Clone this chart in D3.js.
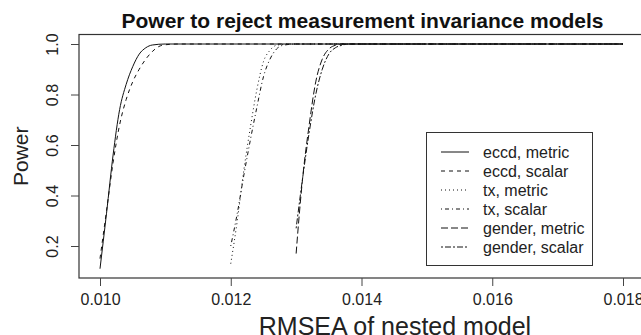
<!DOCTYPE html>
<html>
<head>
<meta charset="utf-8">
<script src="https://cdn.jsdelivr.net/npm/d3@7"></script>
<style>
  body { margin: 0; background: #fff; }
  svg { display: block; font-family: "Liberation Sans", Arial, sans-serif; }
</style>
</head>
<body>
<div id="chart"></div>
<script>
// power curves, [RMSEA, power]
const eccdMetric = [[0.0100,0.11],[0.0101,0.33],[0.0102,0.56],[0.0103,0.74],[0.0104,0.84],[0.0105,0.91],[0.0106,0.96],[0.0107,0.985],[0.0108,0.996],[0.0110,1.0],[0.0180,1.0]];
const eccdScalar = [[0.0100,0.15],[0.0101,0.34],[0.0102,0.53],[0.0103,0.68],[0.0104,0.78],[0.0105,0.85],[0.0106,0.90],[0.0107,0.94],[0.0108,0.97],[0.0109,0.99],[0.0110,0.997],[0.0112,1.0],[0.0180,1.0]];
const txMetric = [[0.0120,0.13],[0.0121,0.30],[0.0122,0.50],[0.0123,0.67],[0.0124,0.82],[0.0125,0.93],[0.0126,0.975],[0.0127,0.995],[0.0129,1.0],[0.0180,1.0]];
const txScalar = [[0.0120,0.20],[0.0121,0.33],[0.0122,0.48],[0.0123,0.62],[0.0124,0.75],[0.0125,0.87],[0.0126,0.94],[0.0127,0.98],[0.0128,0.995],[0.0130,1.0],[0.0180,1.0]];
const genderMetric = [[0.0130,0.17],[0.01305,0.33],[0.0131,0.47],[0.0132,0.68],[0.0133,0.85],[0.0134,0.94],[0.0135,0.98],[0.0136,0.995],[0.0137,1.0],[0.0180,1.0]];
const genderScalar = [[0.0130,0.27],[0.0131,0.47],[0.0132,0.65],[0.0133,0.80],[0.0134,0.90],[0.0135,0.96],[0.0136,0.985],[0.0137,0.995],[0.0138,1.0],[0.0180,1.0]];

const seriesNames = ["eccd, metric", "eccd, scalar", "tx, metric", "tx, scalar", "gender, metric", "gender, scalar"];
const seriesData = [eccdMetric, eccdScalar, txMetric, txScalar, genderMetric, genderScalar];
const xTicks = [0.010, 0.012, 0.014, 0.016, 0.018];
const yTicks = [0.2, 0.4, 0.6, 0.8, 1.0];

// R line types: solid, dashed, dotted, dotdash, longdash, twodash
const dashes = [null, "4,4", "1,3", "1,3,4,3", "7,3", "2,2,6,2"];

const width = 641, height = 335;
const plot = {left: 79, right: 646, top: 34.5, bottom: 278};

const svg = d3.select("#chart").append("svg")
  .attr("width", width)
  .attr("height", height);

const x = d3.scaleLinear()
  .domain([0.010, 0.018])
  .range([100, 623]);

const y = d3.scaleLinear()
  .domain([0.2, 1.0])
  .range([246, 44]);

svg.append("clipPath").attr("id", "clip")
  .append("rect")
  .attr("x", plot.left).attr("y", plot.top)
  .attr("width", plot.right - plot.left).attr("height", plot.bottom - plot.top);

const line = d3.line()
  .x(d => x(d[0]))
  .y(d => y(d[1]))
  .curve(d3.curveMonotoneX);

svg.append("g")
  .attr("clip-path", "url(#clip)")
  .selectAll("path")
  .data(seriesData)
  .enter()
  .append("path")
  .attr("d", line)
  .attr("fill", "none")
  .attr("stroke", "#111")
  .attr("stroke-width", 1)
  .attr("stroke-dasharray", (d, i) => dashes[i]);

// frame
svg.append("rect")
  .attr("x", plot.left).attr("y", plot.top)
  .attr("width", plot.right - plot.left).attr("height", plot.bottom - plot.top)
  .attr("fill", "none")
  .attr("stroke", "#333")
  .attr("stroke-width", 1.2);

// x axis
const xAxis = svg.append("g")
  .attr("transform", "translate(0," + plot.bottom + ")")
  .call(d3.axisBottom(x).tickValues(xTicks).tickFormat(d3.format(".3f")).tickSize(8).tickPadding(8));
xAxis.select(".domain").remove();
xAxis.selectAll("line").attr("stroke", "#444");
xAxis.selectAll("text")
  .attr("font-size", 16)
  .attr("fill", "#222")
  .style("font-family", "Liberation Sans, Arial, sans-serif");

// y axis
const yAxis = svg.append("g")
  .attr("transform", "translate(" + plot.left + ",0)")
  .call(d3.axisLeft(y).tickValues(yTicks).tickFormat(d3.format(".1f")).tickSize(8));
yAxis.select(".domain").remove();
yAxis.selectAll("line").attr("stroke", "#444");
yAxis.selectAll("text")
  .attr("x", null).attr("dy", null)
  .attr("transform", "translate(-21,0) rotate(-90)")
  .attr("text-anchor", "middle")
  .attr("font-size", 16)
  .attr("fill", "#222")
  .style("font-family", "Liberation Sans, Arial, sans-serif");

// titles
svg.append("text")
  .attr("x", (plot.left + plot.right) / 2)
  .attr("y", 28)
  .attr("text-anchor", "middle")
  .attr("font-size", 21)
  .attr("font-weight", "bold")
  .attr("fill", "#111")
  .text("Power to reject measurement invariance models");

svg.append("text")
  .attr("x", 395)
  .attr("y", 335)
  .attr("text-anchor", "middle")
  .attr("font-size", 25)
  .attr("fill", "#222")
  .text("RMSEA of nested model");

svg.append("text")
  .attr("transform", "translate(28," + (plot.top + plot.bottom) / 2 + ") rotate(-90)")
  .attr("text-anchor", "middle")
  .attr("font-size", 21)
  .attr("fill", "#222")
  .text("Power");

// legend
const legend = svg.append("g");
legend.append("rect")
  .attr("x", 426.5).attr("y", 132.5)
  .attr("width", 166).attr("height", 133)
  .attr("fill", "#fff")
  .attr("stroke", "#333")
  .attr("stroke-width", 1);

const rows = legend.selectAll(".row")
  .data(seriesNames)
  .enter()
  .append("g")
  .attr("transform", (d, i) => "translate(0," + (152 + i * 19) + ")");

rows.append("line")
  .attr("x1", 441).attr("x2", 469)
  .attr("stroke", "#111")
  .attr("stroke-width", 1)
  .attr("stroke-dasharray", (d, i) => dashes[i]);

rows.append("text")
  .attr("x", 483)
  .attr("dy", "0.35em")
  .attr("font-size", 16)
  .attr("fill", "#222")
  .text(d => d);
</script>
</body>
</html>
